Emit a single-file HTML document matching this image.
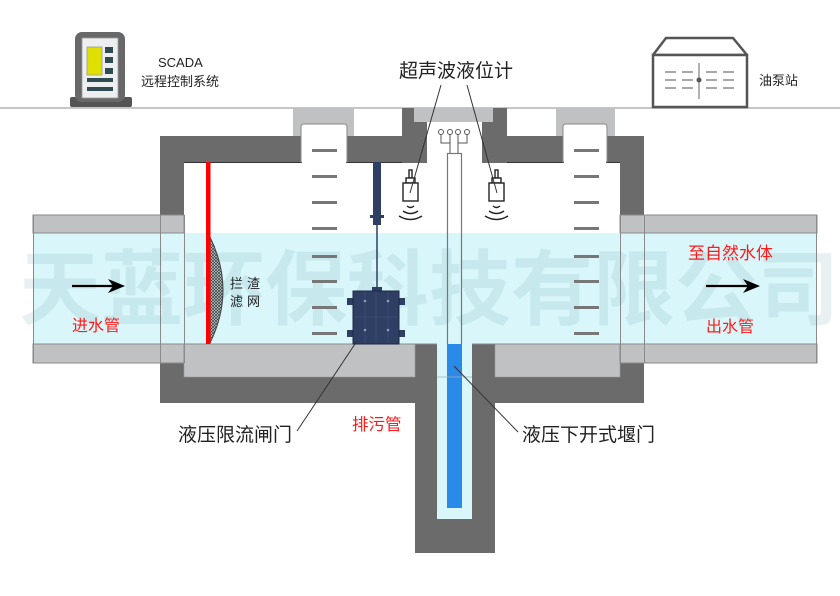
<!DOCTYPE html>
<html><head><meta charset="utf-8">
<style>
html,body{margin:0;padding:0;background:#fff;}
svg{display:block;}
text{font-family:"Liberation Sans","Noto Sans CJK SC",sans-serif;}
</style></head><body>
<svg width="840" height="596" viewBox="0 0 840 596" xmlns="http://www.w3.org/2000/svg">
<defs>
<pattern id="mesh" width="3" height="3" patternUnits="userSpaceOnUse">
<path d="M0,0 L3,3 M3,0 L0,3" stroke="#3a3a3a" stroke-width="0.7"/>
</pattern>
</defs>
<rect width="840" height="596" fill="#fff"/>
<!-- ground -->
<rect x="0" y="107" width="840" height="2" fill="#c6c6c6"/>

<!-- SCADA icon -->
<rect x="70" y="97" width="62" height="10" rx="2" fill="#555"/>
<rect x="75" y="32" width="50" height="70" rx="7" fill="#686868"/>
<rect x="82" y="38" width="36" height="60" fill="#eceeef" stroke="#9a9a9a" stroke-width="0.8"/>
<rect x="87" y="47" width="15" height="28" fill="#dfe000" stroke="#999" stroke-width="0.8"/>
<rect x="105" y="47" width="8" height="6" fill="#2f4a50"/>
<rect x="105" y="57" width="8" height="6" fill="#2f4a50"/>
<rect x="105" y="68" width="8" height="6" fill="#2f4a50"/>
<rect x="87" y="78" width="26" height="4" fill="#2f4a50"/>
<rect x="87" y="87" width="26" height="4" fill="#2f4a50"/>
<text x="158" y="67" font-size="13" fill="#222">SCADA</text>
<text x="141" y="86" font-size="13" fill="#222">远程控制系统</text>

<!-- pump station -->
<polygon points="653,55 666,38 733,38 747,55" fill="#fff" stroke="#555" stroke-width="2.5" stroke-linejoin="round"/>
<rect x="653" y="55" width="94" height="52" fill="#fff" stroke="#555" stroke-width="2.5"/>
<g stroke="#8a8a8a" stroke-width="1.5">
<line x1="665" y1="72" x2="676" y2="72"/><line x1="682" y1="72" x2="693" y2="72"/><line x1="706" y1="72" x2="717" y2="72"/><line x1="723" y1="72" x2="734" y2="72"/>
<line x1="665" y1="80" x2="676" y2="80"/><line x1="682" y1="80" x2="693" y2="80"/><line x1="706" y1="80" x2="717" y2="80"/><line x1="723" y1="80" x2="734" y2="80"/>
<line x1="665" y1="88" x2="676" y2="88"/><line x1="682" y1="88" x2="693" y2="88"/><line x1="706" y1="88" x2="717" y2="88"/><line x1="723" y1="88" x2="734" y2="88"/>
</g>
<line x1="699" y1="63" x2="699" y2="99" stroke="#666" stroke-width="1"/>
<circle cx="699" cy="80" r="2.5" fill="#555"/>
<text x="759" y="85" font-size="13" fill="#222">油泵站</text>

<!-- main structure -->
<rect x="160" y="136" width="484" height="267" fill="#6b6b6b"/>
<rect x="402" y="108" width="105" height="54" fill="#6b6b6b"/>
<rect x="415" y="340" width="80" height="213" fill="#6b6b6b"/>
<rect x="184" y="162" width="436" height="182" fill="#fff"/>
<line x1="184" y1="162.5" x2="620" y2="162.5" stroke="#333" stroke-width="1"/>
<rect x="402" y="162" width="105" height="1" fill="#6b6b6b"/>
<!-- floors -->
<rect x="184" y="344" width="231" height="33" fill="#bfc1c2" stroke="#9a9a9a" stroke-width="0.6"/>
<rect x="495" y="344" width="125" height="33" fill="#bfc1c2" stroke="#9a9a9a" stroke-width="0.6"/>
<!-- drain -->
<rect x="437" y="344" width="35" height="175" fill="#d9f6fa"/>
<rect x="447" y="343" width="15" height="165" fill="#2a8ae8"/>
<line x1="437" y1="377" x2="472" y2="377" stroke="#aab" stroke-width="0.8"/>

<!-- center shaft top -->
<rect x="414" y="108" width="79" height="14" fill="#bfc1c2"/>
<rect x="427" y="122" width="55" height="41" fill="#fff"/>

<!-- left cap -->
<rect x="293" y="108" width="61" height="28" fill="#bfc1c2"/>
<path d="M301,162 L301,127 Q301,124 304,124 L344,124 Q347,124 347,127 L347,162 Z" fill="#fff" stroke="#8a8a8a" stroke-width="1"/>
<!-- right cap -->
<rect x="556" y="108" width="59" height="28" fill="#bfc1c2"/>
<path d="M563,162 L563,127 Q563,124 566,124 L604,124 Q607,124 607,127 L607,162 Z" fill="#fff" stroke="#8a8a8a" stroke-width="1"/>
<rect x="302" y="161" width="44" height="3" fill="#fff"/>
<rect x="564" y="161" width="42" height="3" fill="#fff"/>

<!-- pipes -->
<g stroke="#8a8a8a" stroke-width="1">
<rect x="33" y="215" width="151" height="18" fill="#bfc1c2"/>
<rect x="33" y="344" width="151" height="19" fill="#bfc1c2"/>
<rect x="620" y="215" width="197" height="18" fill="#bfc1c2"/>
<rect x="620" y="344" width="197" height="19" fill="#bfc1c2"/>
</g>
<rect x="33" y="233" width="784" height="111" fill="#d9f6fa"/>
<g stroke="#8a8a8a" stroke-width="1">
<line x1="33" y1="233" x2="184" y2="233"/>
<line x1="620" y1="233" x2="817" y2="233"/>
<line x1="33" y1="344" x2="437" y2="344"/>
<line x1="472" y1="344" x2="817" y2="344"/>
<line x1="33.5" y1="215" x2="33.5" y2="363"/>
<line x1="816.5" y1="215" x2="816.5" y2="363"/>
<line x1="160.5" y1="215" x2="160.5" y2="363"/>
<line x1="184.5" y1="215" x2="184.5" y2="363"/>
<line x1="620.5" y1="215" x2="620.5" y2="363"/>
<line x1="644.5" y1="215" x2="644.5" y2="363"/>
</g>

<!-- watermark -->
<text x="19" y="318" font-size="82" font-weight="bold" fill="rgba(80,140,150,0.13)" style="font-family:'Noto Sans CJK SC',sans-serif;">天蓝环保科技有限公司</text>

<!-- rungs -->
<g fill="#777">
<rect x="312" y="149" width="25" height="3"/><rect x="312" y="175" width="25" height="3"/><rect x="312" y="201" width="25" height="3"/><rect x="312" y="227" width="25" height="3"/>
<rect x="312" y="255" width="25" height="3"/><rect x="312" y="280" width="25" height="3"/><rect x="312" y="306" width="25" height="3"/><rect x="312" y="332" width="25" height="3"/>
<rect x="574" y="149" width="25" height="3"/><rect x="574" y="175" width="25" height="3"/><rect x="574" y="201" width="25" height="3"/><rect x="574" y="227" width="25" height="3"/>
<rect x="574" y="255" width="25" height="3"/><rect x="574" y="280" width="25" height="3"/><rect x="574" y="306" width="25" height="3"/><rect x="574" y="332" width="25" height="3"/>
</g>

<!-- weir column -->
<line x1="447.5" y1="153" x2="447.5" y2="344" stroke="#777" stroke-width="1.2"/>
<line x1="461.5" y1="153" x2="461.5" y2="344" stroke="#777" stroke-width="1.2"/>
<line x1="447" y1="153.5" x2="462" y2="153.5" stroke="#777" stroke-width="1.2"/>
<!-- connectors -->
<g stroke="#555" stroke-width="1" fill="none">
<path d="M441,134.5 V143 H450 M467,134.5 V143 H458 M450,134.5 V153 M458,134.5 V153"/>
</g>
<g stroke="#555" stroke-width="1" fill="#fff">
<circle cx="441" cy="132" r="2.5"/><circle cx="450" cy="132" r="2.5"/><circle cx="458" cy="132" r="2.5"/><circle cx="467" cy="132" r="2.5"/>
</g>

<!-- sensors -->
<g stroke="#222" stroke-width="1.4" fill="#fff">
<rect x="409" y="170" width="3" height="8"/>
<rect x="406" y="178" width="9" height="5"/>
<rect x="403" y="183" width="15" height="18"/>
<rect x="495" y="170" width="3" height="8"/>
<rect x="492" y="178" width="9" height="5"/>
<rect x="489" y="183" width="15" height="18"/>
</g>
<g stroke="#222" stroke-width="1.4" fill="none">
<path d="M407,206 Q410.5,209 414,206"/>
<path d="M403,211 Q410.5,216 418,211"/>
<path d="M399,216 Q410.5,223 422,216"/>
<path d="M493,206 Q496.5,209 500,206"/>
<path d="M489,211 Q496.5,216 504,211"/>
<path d="M485,216 Q496.5,223 508,216"/>
</g>
<line x1="441" y1="85" x2="410" y2="193" stroke="#333" stroke-width="1"/>
<line x1="467" y1="85" x2="497" y2="193" stroke="#333" stroke-width="1"/>
<text x="399" y="77" font-size="19" fill="#222">超声波液位计</text>

<!-- gate -->
<rect x="373" y="162" width="8" height="63" fill="#2f3e63"/>
<rect x="370" y="215" width="14" height="3" fill="#2f3e63"/>
<line x1="377" y1="225" x2="377" y2="290" stroke="#2f3e63" stroke-width="1.5"/>
<rect x="372" y="287" width="10" height="4" fill="#2f3e63"/>
<g fill="#2f3e63">
<rect x="347" y="298" width="7" height="7"/><rect x="398" y="298" width="7" height="7"/>
<rect x="347" y="330" width="7" height="7"/><rect x="398" y="330" width="7" height="7"/>
</g>
<rect x="353" y="291" width="46" height="53" fill="#2f3e63" stroke="#1e2844" stroke-width="1"/>
<g stroke="#44557f" stroke-width="0.6">
<line x1="376" y1="292" x2="376" y2="343"/>
<line x1="365" y1="292" x2="365" y2="343"/>
<line x1="388" y1="292" x2="388" y2="343"/>
<line x1="354" y1="317" x2="398" y2="317"/>
</g>
<g fill="#8c9abb">
<circle cx="365" cy="301" r="1.3"/><circle cx="388" cy="301" r="1.3"/><circle cx="365" cy="330" r="1.3"/><circle cx="388" cy="330" r="1.3"/>
</g>

<!-- filter -->
<path d="M210,237 Q236,290 210,343 Z" fill="#9a9a9a" opacity="0.35"/>
<path d="M210,237 Q236,290 210,343 Z" fill="url(#mesh)"/>
<path d="M210,237 Q236,290 210,343" fill="none" stroke="#444" stroke-width="1"/>
<rect x="206" y="162" width="4.5" height="182" fill="#ff0000"/>
<text x="230" y="288" font-size="13" fill="#222" letter-spacing="4">拦渣</text>
<text x="230" y="306" font-size="13" fill="#222" letter-spacing="4">滤网</text>

<!-- arrows -->
<line x1="72" y1="286" x2="114" y2="286" stroke="#000" stroke-width="2.2"/>
<polygon points="125,286 108,279 113,286 108,293" fill="#000"/>
<line x1="706" y1="286" x2="749" y2="286" stroke="#000" stroke-width="2.2"/>
<polygon points="760,286 743,279 748,286 743,293" fill="#000"/>

<!-- red labels -->
<text x="72" y="331" font-size="16" fill="#ff1a1a">进水管</text>
<text x="688" y="259" font-size="17" fill="#ff1a1a">至自然水体</text>
<text x="706" y="332" font-size="16" fill="#ff1a1a">出水管</text>
<text x="352" y="430" font-size="16.5" fill="#ff1a1a">排污管</text>

<!-- leader labels -->
<line x1="357" y1="341" x2="297" y2="431" stroke="#333" stroke-width="1"/>
<line x1="454" y1="366" x2="518" y2="432" stroke="#333" stroke-width="1"/>
<text x="178" y="441" font-size="19" fill="#222">液压限流闸门</text>
<text x="522" y="441" font-size="19" fill="#222">液压下开式堰门</text>
</svg>
</body></html>
